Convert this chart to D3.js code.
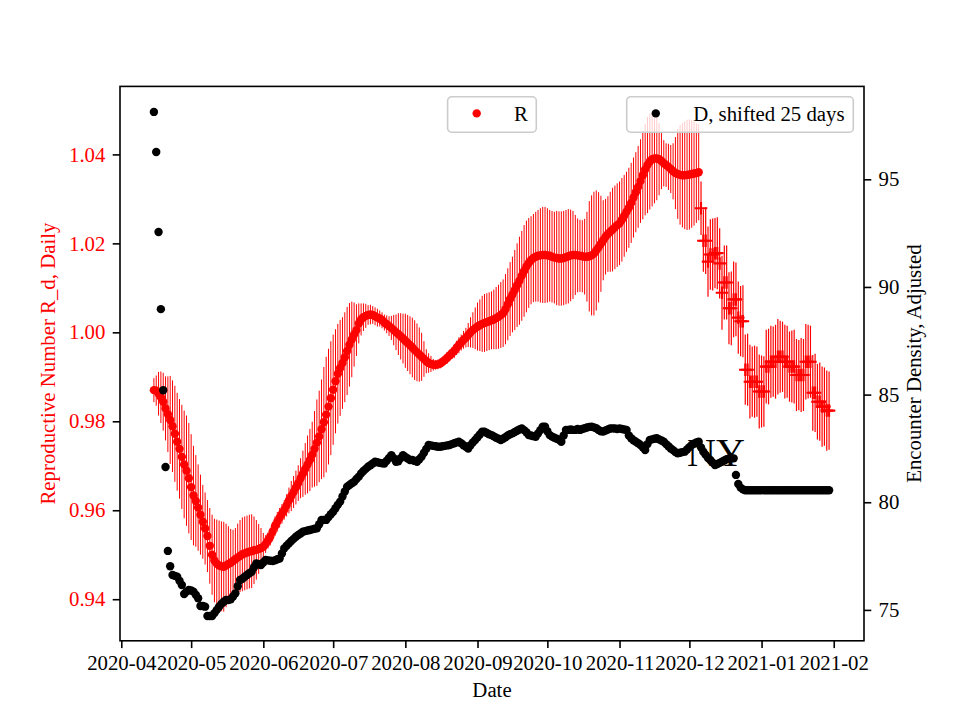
<!DOCTYPE html>
<html>
<head>
<meta charset="utf-8">
<script src="https://cdn.jsdelivr.net/npm/d3@7"></script>
<style>
  html, body { margin: 0; padding: 0; background: #fff; }
  svg text { font-family: "Liberation Serif", "Times New Roman", serif; }
</style>
</head>
<body>
<div id="chart"></div>
<script>
// ---------------- DATA ----------------
const startDate = "2020-04-15"; // first daily sample
const monthTicks = ["2020-04","2020-05","2020-06","2020-07","2020-08","2020-09","2020-10","2020-11","2020-12","2021-01","2021-02"];
const rTicks = [0.94, 0.96, 0.98, 1.00, 1.02, 1.04];
const dTicks = [75, 80, 85, 90, 95];

// R, daily, drawn with circle markers (2020-04-15 .. 2020-12-05)
const rCircle = [
0.9870,0.9869,0.9862,0.9854,0.9844,0.9829,0.9816,0.9803,0.9789,0.9772,
0.9754,0.9738,0.9720,0.9703,0.9689,0.9672,0.9652,0.9633,0.9621,0.9606,
0.9590,0.9574,0.9559,0.9542,0.9520,0.9500,0.9487,0.9480,0.9476,0.9474,
0.9473,0.9476,0.9479,0.9482,0.9486,0.9490,0.9494,0.9497,0.9501,0.9503,
0.9505,0.9507,0.9508,0.9510,0.9511,0.9513,0.9515,0.9518,0.9524,0.9532,
0.9541,0.9552,0.9564,0.9574,0.9583,0.9592,0.9601,0.9611,0.9622,0.9632,
0.9641,0.9651,0.9661,0.9672,0.9682,0.9693,0.9703,0.9713,0.9725,0.9738,
0.9752,0.9766,0.9782,0.9798,0.9815,0.9833,0.9852,0.9871,0.9890,0.9907,
0.9920,0.9931,0.9944,0.9958,0.9972,0.9984,0.9995,1.0005,1.0020,1.0029,
1.0034,1.0037,1.0039,1.0040,1.0039,1.0036,1.0033,1.0031,1.0027,1.0022,
1.0018,1.0014,1.0010,1.0005,1.0000,0.9996,0.9991,0.9986,0.9981,0.9976,
0.9971,0.9966,0.9960,0.9955,0.9950,0.9945,0.9940,0.9935,0.9931,0.9929,
0.9927,0.9927,0.9928,0.9930,0.9934,0.9938,0.9943,0.9948,0.9953,0.9958,
0.9965,0.9971,0.9977,0.9983,0.9988,0.9994,1.0000,1.0005,1.0009,1.0013,
1.0016,1.0019,1.0021,1.0023,1.0025,1.0027,1.0029,1.0032,1.0035,1.0039,
1.0043,1.0052,1.0063,1.0075,1.0085,1.0095,1.0106,1.0116,1.0127,1.0138,
1.0148,1.0156,1.0162,1.0167,1.0170,1.0172,1.0173,1.0174,1.0174,1.0173,
1.0172,1.0170,1.0168,1.0167,1.0166,1.0166,1.0167,1.0169,1.0171,1.0173,
1.0174,1.0174,1.0173,1.0172,1.0171,1.0170,1.0170,1.0171,1.0173,1.0177,
1.0184,1.0191,1.0199,1.0207,1.0215,1.0221,1.0226,1.0231,1.0236,1.0241,
1.0245,1.0253,1.0262,1.0271,1.0280,1.0291,1.0303,1.0315,1.0327,1.0340,
1.0353,1.0366,1.0376,1.0384,1.0389,1.0391,1.0391,1.0389,1.0385,1.0380,
1.0376,1.0372,1.0367,1.0362,1.0358,1.0356,1.0354,1.0353,1.0353,1.0354,
1.0355,1.0356,1.0357,1.0358,1.0360
];
const rCircleErr = [
0.0027,0.0034,0.0049,0.0058,0.0065,0.0072,0.0085,0.0099,0.0103,0.0108,
0.0110,0.0112,0.0117,0.0121,0.0124,0.0124,0.0119,0.0112,0.0103,0.0097,
0.0090,0.0083,0.0081,0.0081,0.0085,0.0090,0.0094,0.0099,0.0101,0.0101,
0.0101,0.0094,0.0085,0.0076,0.0070,0.0070,0.0076,0.0081,0.0083,0.0083,
0.0083,0.0083,0.0083,0.0076,0.0067,0.0056,0.0045,0.0031,0.0020,0.0018,
0.0020,0.0022,0.0022,0.0022,0.0022,0.0022,0.0022,0.0025,0.0029,0.0034,
0.0036,0.0038,0.0040,0.0045,0.0052,0.0058,0.0065,0.0070,0.0074,0.0085,
0.0097,0.0103,0.0112,0.0124,0.0130,0.0130,0.0128,0.0124,0.0117,0.0112,
0.0108,0.0103,0.0101,0.0099,0.0094,0.0085,0.0072,0.0058,0.0045,0.0036,
0.0031,0.0027,0.0022,0.0022,0.0020,0.0020,0.0020,0.0018,0.0018,0.0018,
0.0020,0.0022,0.0027,0.0034,0.0040,0.0047,0.0052,0.0056,0.0061,0.0063,
0.0065,0.0067,0.0067,0.0065,0.0061,0.0054,0.0040,0.0027,0.0022,0.0018,
0.0013,0.0011,0.0011,0.0011,0.0011,0.0011,0.0013,0.0013,0.0013,0.0016,
0.0016,0.0018,0.0018,0.0020,0.0022,0.0027,0.0034,0.0040,0.0047,0.0054,
0.0058,0.0063,0.0065,0.0065,0.0065,0.0065,0.0067,0.0070,0.0072,0.0074,
0.0076,0.0079,0.0081,0.0083,0.0085,0.0090,0.0094,0.0099,0.0101,0.0103,
0.0103,0.0101,0.0099,0.0099,0.0101,0.0103,0.0106,0.0108,0.0108,0.0106,
0.0103,0.0103,0.0103,0.0106,0.0106,0.0106,0.0106,0.0106,0.0106,0.0103,
0.0099,0.0090,0.0083,0.0081,0.0081,0.0085,0.0101,0.0124,0.0135,0.0139,
0.0135,0.0124,0.0108,0.0090,0.0085,0.0085,0.0090,0.0094,0.0094,0.0094,
0.0094,0.0094,0.0092,0.0090,0.0090,0.0090,0.0090,0.0090,0.0092,0.0094,
0.0099,0.0103,0.0108,0.0108,0.0106,0.0101,0.0094,0.0081,0.0063,0.0052,
0.0049,0.0052,0.0054,0.0063,0.0081,0.0101,0.0112,0.0117,0.0121,0.0124,
0.0124,0.0121,0.0117,0.0112,0.0108
];

// R, daily, drawn with plus markers (2020-12-06 .. 2021-01-30)
const rPlusStart = "2020-12-06";
const rPlus = [
1.0279,1.0206,1.0206,1.0159,1.0175,1.0175,1.0178,1.0178,1.0155,1.0089,
1.0112,1.0112,1.0054,1.0054,1.0074,1.0074,1.0033,1.0025,1.0025,0.9916,
0.9916,0.9889,0.9889,0.9889,0.9889,0.9867,0.9867,0.9867,0.9923,0.9923,
0.9934,0.9934,0.9934,0.9945,0.9945,0.9945,0.9934,0.9934,0.9923,0.9923,
0.9923,0.9904,0.9904,0.9904,0.9904,0.9934,0.9934,0.9934,0.9864,0.9864,
0.9844,0.9844,0.9833,0.9833,0.9824,0.9824
];
const rPlusErr = [
0.0060,0.0070,0.0075,0.0079,0.0079,0.0081,0.0079,0.0081,0.0079,0.0083,
0.0083,0.0083,0.0081,0.0083,0.0085,0.0083,0.0081,0.0079,0.0081,0.0079,
0.0081,0.0083,0.0079,0.0081,0.0079,0.0083,0.0081,0.0079,0.0083,0.0085,
0.0081,0.0079,0.0083,0.0085,0.0081,0.0079,0.0083,0.0081,0.0079,0.0081,
0.0083,0.0081,0.0079,0.0083,0.0081,0.0085,0.0083,0.0081,0.0085,0.0088,
0.0085,0.0088,0.0090,0.0088,0.0090,0.0088
];

// D, shifted 25 days, daily (2020-04-15 .. 2021-01-30)
const dValues = [
98.13,96.27,92.55,88.97,85.20,81.64,77.74,77.03,76.62,76.58,
76.54,76.35,76.16,75.74,75.85,75.93,75.90,75.85,75.70,75.54,
75.18,75.18,75.15,74.72,74.72,74.72,74.85,75.00,75.15,75.28,
75.38,75.46,75.46,75.49,75.62,75.77,76.10,76.39,76.45,76.54,
76.62,76.70,76.77,76.98,77.16,77.12,77.08,77.20,77.32,77.30,
77.28,77.27,77.30,77.35,77.39,77.62,77.86,77.98,78.09,78.20,
78.30,78.40,78.48,78.55,78.63,78.66,78.69,78.71,78.74,78.77,
78.79,78.98,79.18,79.18,79.18,79.31,79.44,79.56,79.72,79.88,
80.03,80.27,80.50,80.72,80.80,80.88,80.95,81.08,81.19,81.34,
81.45,81.55,81.65,81.72,81.80,81.88,81.86,81.83,81.81,81.80,
81.93,82.06,82.19,82.05,81.88,81.90,82.05,82.19,82.10,82.03,
81.96,81.96,81.92,81.88,82.00,82.12,82.30,82.48,82.66,82.64,
82.62,82.60,82.58,82.58,82.60,82.62,82.64,82.66,82.70,82.74,
82.78,82.81,82.74,82.65,82.58,82.50,82.65,82.78,82.89,83.02,
83.15,83.28,83.28,83.22,83.16,83.12,83.06,83.00,82.95,82.89,
82.95,83.02,83.10,83.16,83.20,83.26,83.32,83.38,83.43,83.35,
83.25,83.12,83.10,83.07,83.04,83.20,83.35,83.51,83.51,83.30,
83.12,83.05,83.00,82.95,82.90,82.81,83.10,83.36,83.36,83.38,
83.36,83.36,83.40,83.36,83.40,83.44,83.47,83.50,83.51,83.48,
83.44,83.36,83.30,83.28,83.33,83.38,83.43,83.43,83.43,83.40,
83.43,83.40,83.38,83.36,83.10,82.97,82.88,82.81,82.74,82.66,
82.55,82.43,82.70,82.89,82.92,82.95,82.97,82.92,82.87,82.81,
82.70,82.60,82.50,82.42,82.33,82.27,82.30,82.33,82.35,82.45,
82.56,82.66,82.72,82.78,82.81,82.55,82.35,82.20,82.05,81.96,
81.84,81.73,81.78,81.83,81.88,81.94,82.00,82.04,82.04,82.04,
81.27,80.85,80.68,80.60,80.56,80.56,80.56,80.56,80.56,80.56,
80.56,80.56,80.56,80.56,80.56,80.56,80.56,80.56,80.56,80.56,
80.56,80.56,80.56,80.56,80.56,80.56,80.56,80.56,80.56,80.56,
80.56,80.56,80.56,80.56,80.56,80.56,80.56,80.56,80.56,80.56,
80.56
];

const legendLabels = ["R", "D, shifted 25 days"];
const annotation = "NY";

// ---------------- LAYOUT ----------------
const W = 960, H = 720;
const L = 120, Rg = 864, T = 86.4, B = 640.8;
const FS = 20.8;
const tickLen = 7.3, tickPad = 7.3;

const parse = d3.utcParse("%Y-%m-%d");
const parseM = d3.utcParse("%Y-%m");
const day0 = parse(startDate);
const dayPlus0 = parse(rPlusStart);
const dateAt = (base, i) => d3.utcDay.offset(base, i);

const x = d3.scaleUtc()
  .domain([new Date(Date.UTC(2020, 2, 31, 10, 36)), new Date(Date.UTC(2021, 1, 14))])
  .range([L, Rg]);
const yR = d3.scaleLinear().domain([0.93065, 1.05529]).range([B, T]);
const yD = d3.scaleLinear().domain([73.565, 99.315]).range([B, T]);

const svg = d3.select("#chart").append("svg")
  .attr("width", W).attr("height", H)
  .style("background", "#fff");

svg.append("rect").attr("width", W).attr("height", H).attr("fill", "#fff");

// ---------- R series (ax1) ----------
const gR = svg.append("g");
const circ = rCircle.map((v, i) => ({ d: dateAt(day0, i), v, e: rCircleErr[i] }));
const plus = rPlus.map((v, i) => ({ d: dateAt(dayPlus0, i), v, e: rPlusErr[i] }));

gR.selectAll("line.eb1").data(circ).join("line")
  .attr("x1", p => x(p.d)).attr("x2", p => x(p.d))
  .attr("y1", p => yR(p.v - p.e)).attr("y2", p => yR(p.v + p.e))
  .attr("stroke", "#ff0000").attr("stroke-width", 1.0);
gR.selectAll("circle.rc").data(circ).join("circle")
  .attr("cx", p => x(p.d)).attr("cy", p => yR(p.v)).attr("r", 4.2)
  .attr("fill", "#ff0000");

gR.selectAll("line.eb2").data(plus).join("line")
  .attr("x1", p => x(p.d)).attr("x2", p => x(p.d))
  .attr("y1", p => yR(p.v - p.e)).attr("y2", p => yR(p.v + p.e))
  .attr("stroke", "#ff0000").attr("stroke-width", 1.2);
const pm = 6.25;
gR.selectAll("path.rp").data(plus).join("path")
  .attr("d", p => {
    const cx = x(p.d), cy = yR(p.v);
    return `M${cx - pm},${cy}H${cx + pm}M${cx},${cy - pm}V${cy + pm}`;
  })
  .attr("stroke", "#ff0000").attr("stroke-width", 2.1).attr("fill", "none");

// legend 1 (ax1)
function legend(gx, gy, w, label, color) {
  const g = svg.append("g").attr("transform", `translate(${gx},${gy})`);
  g.append("rect").attr("x", 0).attr("y", 0).attr("width", w).attr("height", 35.4)
    .attr("rx", 4).attr("ry", 4)
    .attr("fill", "#fff").attr("fill-opacity", 0.8)
    .attr("stroke", "#cccccc").attr("stroke-width", 1.6);
  g.append("circle").attr("cx", 29.1).attr("cy", 16.6).attr("r", 4.2).attr("fill", color);
  g.append("text").attr("x", 66.5).attr("y", 24.6).attr("font-size", FS)
    .attr("fill", "#000").text(label);
}
legend(447.6, 96.8, 88.7, legendLabels[0], "#ff0000");

// ---------- D series (ax2) ----------
const gD = svg.append("g");
gD.selectAll("circle").data(dValues).join("circle")
  .attr("cx", (v, i) => x(dateAt(day0, i))).attr("cy", v => yD(v)).attr("r", 4.2)
  .attr("fill", "#000");

svg.append("text").attr("x", 687).attr("y", 466).attr("font-size", 40)
  .attr("fill", "#000").text(annotation);

legend(626.7, 96.8, 226.6, legendLabels[1], "#000");

// ---------- axes ----------
const xAxis = d3.axisBottom(x)
  .tickValues(monthTicks.map(parseM))
  .tickFormat(d3.utcFormat("%Y-%m"))
  .tickSize(tickLen).tickPadding(tickPad).tickSizeOuter(0);
const gx = svg.append("g").attr("transform", `translate(0,${B})`).call(xAxis);
gx.select(".domain").remove();
gx.selectAll("line").attr("stroke", "#000").attr("stroke-width", 1.6);
gx.selectAll("text").attr("font-size", FS).attr("fill", "#000")
  .attr("font-family", "Liberation Serif, Times New Roman, serif");

const yAxisL = d3.axisLeft(yR).tickValues(rTicks).tickFormat(d3.format(".2f"))
  .tickSize(tickLen).tickPadding(tickPad).tickSizeOuter(0);
const gyl = svg.append("g").attr("transform", `translate(${L},0)`).call(yAxisL);
gyl.select(".domain").remove();
gyl.selectAll("line").attr("stroke", "#000").attr("stroke-width", 1.6);
gyl.selectAll("text").attr("font-size", FS).attr("fill", "#ff0000")
  .attr("font-family", "Liberation Serif, Times New Roman, serif");

const yAxisR = d3.axisRight(yD).tickValues(dTicks).tickFormat(d3.format("d"))
  .tickSize(tickLen).tickPadding(tickPad).tickSizeOuter(0);
const gyr = svg.append("g").attr("transform", `translate(${Rg},0)`).call(yAxisR);
gyr.select(".domain").remove();
gyr.selectAll("line").attr("stroke", "#000").attr("stroke-width", 1.6);
gyr.selectAll("text").attr("font-size", FS).attr("fill", "#000")
  .attr("font-family", "Liberation Serif, Times New Roman, serif");

// frame
svg.append("rect").attr("x", L).attr("y", T).attr("width", Rg - L).attr("height", B - T)
  .attr("fill", "none").attr("stroke", "#000").attr("stroke-width", 1.6);

// axis titles
svg.append("text").attr("x", (L + Rg) / 2).attr("y", 697).attr("text-anchor", "middle")
  .attr("font-size", FS).attr("fill", "#000").text("Date");
svg.append("text")
  .attr("transform", `translate(55,${(T + B) / 2}) rotate(-90)`)
  .attr("text-anchor", "middle").attr("font-size", FS).attr("fill", "#ff0000")
  .text("Reproductive Number R_d, Daily");
svg.append("text")
  .attr("transform", `translate(921,${(T + B) / 2}) rotate(-90)`)
  .attr("text-anchor", "middle").attr("font-size", FS).attr("fill", "#000")
  .text("Encounter Density, Adjusted");
</script>
</body>
</html>
